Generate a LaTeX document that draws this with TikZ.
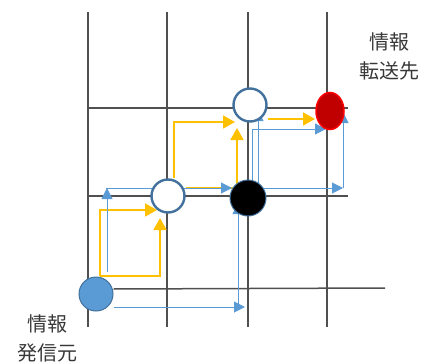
\documentclass[tikz,border=0pt]{standalone}
\usepackage{fontspec}
\newfontfamily\cjk{Noto Sans CJK JP}
\usetikzlibrary{arrows.meta,shapes.geometric}
\definecolor{gridc}{HTML}{505050}
\definecolor{bluea}{HTML}{5B9BD5}
\definecolor{yel}{HTML}{FFC000}
\definecolor{edgeb}{HTML}{41719C}
\definecolor{darkred}{HTML}{C00000}
\definecolor{txt}{HTML}{383838}
\pgfdeclarelayer{bg}
\pgfsetlayers{bg,main}
\begin{document}
\begin{tikzpicture}[x=1pt,y=-1pt,
  gridline/.style={draw=gridc,line width=1.5pt},
  barrow/.style={draw=bluea,line width=1pt,-{Triangle[length=11pt,width=11pt]}},
  yarrow/.style={draw=yel,line width=1.8pt,-{Triangle[length=12pt,width=13pt]}},
  dot/.style={circle,inner sep=0pt,minimum size=33pt},
  wcirc/.style={dot,fill=white,draw=edgeb,line width=2.4pt},
  lbl/.style={text=txt,align=center,font=\cjk\fontsize{20}{29}\selectfont,inner sep=0pt}
]
\useasboundingbox (0,0) rectangle (431,364);

% nodes
\node[dot,fill=bluea,draw=edgeb,line width=1pt,minimum size=34pt] (src) at (96,294) {};
\node[wcirc] (w1) at (168,196) {};
\node[dot,fill=black,draw=edgeb,line width=1pt,minimum size=36pt] (k) at (248,198) {};
\node[wcirc] (w2) at (250,105) {};
\node[ellipse,inner sep=0pt,minimum width=28pt,minimum height=37pt,fill=darkred,draw=red,line width=1.5pt] (dst) at (330,111) {};

\node[lbl] (lsrc) at (47,338) {情報\\発信元};
\node[lbl] (ldst) at (389,56) {情報\\転送先};

\begin{pgfonlayer}{bg}
% grid
\draw[gridline] (88,12) -- (88,327);
\draw[gridline] (167,12) -- (167,327);
\draw[gridline] (248,12) -- (248,327);
\draw[gridline] (327,12) -- (327,327);
\draw[gridline] (88,108) -- (348,108);
\draw[gridline] (88,196) -- (348,196);
\draw[gridline] (src.east |- 0,289) -- (385,288);

% yellow paths
\draw[yarrow] (100,276) -- (100,210) -- (157,210);
\draw[yarrow] (100,276) -- (160,276) -- (160,218);
\draw[yarrow] (w1.north -| 174,0) -- (174,122) -- (235,122);
\draw[yarrow] (w1.east |- 0,188) -- (237,188) -- (237,128);
\draw[yarrow] (w2.east |- 0,119) -- (315,119);

% blue paths
\draw[barrow] (107,272) -- (107,188);
\draw[barrow] (106,188) -- (232,188);
\draw[barrow] (src.east |- 0,307) -- (245,307);
\draw[barrow] (238,307) -- (238,203);
\draw[barrow] (258,190) -- (258,110);
\draw[barrow] (252,182) -- (252,129) -- (326,129);
\draw[barrow] (262,188) -- (343,188);
\draw[barrow] (343,188) -- (343,112);
\end{pgfonlayer}
\end{tikzpicture}
\end{document}
